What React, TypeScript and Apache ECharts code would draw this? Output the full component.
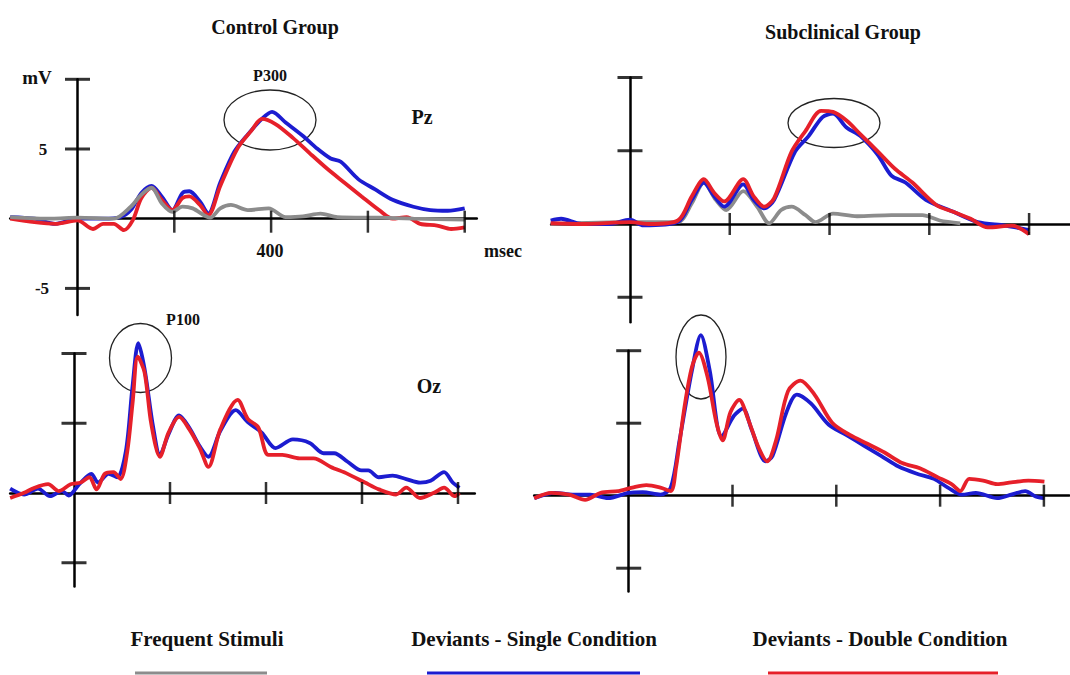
import React, { useEffect, useRef } from "react";
import * as echarts from "echarts";

// ---- Data (time in msec, amplitude in mV) ----
const ctrlPzBlue: number[][] = [
  [-139, 0.12], [-89, 0], [-46, -0.37], [0, 0], [53, 0], [89, 0.12], [110, 0.62], [132, 1.85], [153, 2.35],
  [174, 1.6], [196, 0.62], [217, 1.85], [231, 1.97], [253, 1.23], [270, 0.37], [295, 2.6], [324, 4.8],
  [352, 6.05], [381, 7.16], [402, 7.66], [430, 6.9], [466, 5.93], [494, 5.06], [523, 4.32], [544, 4.08],
  [580, 2.84], [615, 2.1], [651, 1.36], [694, 0.86], [729, 0.62], [765, 0.57], [800, 0.74],
];
const ctrlPzRed: number[][] = [
  [-139, 0], [-89, -0.25], [-46, -0.37], [0, -0.12], [32, -0.74], [53, -0.37], [75, -0.37], [96, -0.82],
  [114, -0.12], [132, 1.48], [153, 2.22], [174, 1.36], [196, 0.62], [217, 1.48], [231, 1.6], [253, 0.99],
  [270, 0.25], [295, 2.35], [331, 5.06], [359, 6.3], [381, 7.16], [409, 6.79], [445, 5.8], [480, 4.69],
  [516, 3.58], [551, 2.6], [587, 1.6], [623, 0.62], [651, 0], [680, 0.12], [708, -0.37], [743, -0.49],
  [772, -0.74], [800, -0.62],
];
const ctrlPzGray: number[][] = [
  [-139, 0.12], [-53, 0], [0, 0.07], [75, 0], [110, 0.86], [132, 1.73], [153, 2.22], [174, 1.11],
  [196, 0.49], [217, 0.86], [238, 0.74], [274, 0.07], [295, 0.74], [317, 0.99], [352, 0.62], [395, 0.74],
  [430, 0.12], [466, 0.17], [502, 0.37], [537, 0.12], [623, 0.07], [694, 0], [800, -0.07],
];

const subPzBlue: number[][] = [
  [-159, 0.24], [-138, 0.36], [-97, 0], [-42, 0], [0, 0.29], [27, -0.1], [96, 0.13], [124, 1.65],
  [148, 2.83], [169, 1.89], [189, 1.18], [227, 2.71], [248, 1.65], [269, 1.06], [289, 1.65], [331, 4.94],
  [358, 6.0], [386, 7.3], [407, 7.53], [434, 6.59], [462, 6.0], [497, 4.71], [524, 3.3], [552, 2.83],
  [593, 1.65], [648, 0.83], [697, 0.13], [752, -0.11], [800, -0.41],
];
const subPzRed: number[][] = [
  [-159, 0.05], [-97, 0], [0, 0.13], [41, 0], [96, 0.24], [124, 1.89], [148, 3.06], [169, 2.12],
  [189, 1.54], [227, 3.06], [248, 1.89], [269, 1.18], [289, 1.77], [324, 4.94], [352, 6.36], [383, 7.72],
  [407, 7.65], [434, 7.06], [462, 6.12], [497, 4.94], [531, 3.77], [566, 2.83], [614, 1.3], [648, 0.83],
  [683, 0.36], [717, -0.23], [766, -0.11], [800, -0.7],
];
const subPzGray: number[][] = [
  [-159, 0], [0, 0.13], [96, 0.13], [124, 1.42], [148, 2.83], [172, 1.65], [193, 0.95], [227, 2.24],
  [255, 1.18], [279, 0.05], [303, 0.95], [324, 1.18], [352, 0.6], [372, 0.13], [407, 0.71], [455, 0.53],
  [524, 0.6], [586, 0.6], [621, 0.24], [662, 0.05],
];

const ctrlOzBlue: number[][] = [
  [-133, 0.31], [-104, -0.11], [-75, 0.31], [-50, -0.23], [-25, 0.14], [-11, -0.18], [11, 0.63], [36, 1.37],
  [50, 0.75], [72, 1.37], [90, 1.13], [108, 2.98], [122, 7.67], [134, 10.75], [147, 8.9], [165, 4.7],
  [179, 2.73], [197, 4.21], [219, 5.57], [240, 4.7], [262, 3.35], [280, 2.6], [305, 4.46], [337, 5.94],
  [362, 5.08], [391, 4.33], [420, 3.22], [456, 3.84], [491, 3.59], [520, 2.85], [542, 2.85], [570, 2.24],
  [599, 1.62], [613, 1.62], [635, 1.13], [664, 1.25], [692, 1.0], [721, 0.75], [743, 0.88], [771, 1.5],
  [789, 0.75], [803, 0.38],
];
const ctrlOzRed: number[][] = [
  [-133, -0.36], [-104, 0.01], [-82, 0.38], [-54, 0.63], [-32, 0.14], [-7, 0.63], [14, 0.75], [32, 1.13],
  [47, 0.26], [64, 1.37], [82, 1.5], [97, 1.0], [111, 2.98], [122, 6.43], [133, 9.77], [147, 8.65],
  [161, 4.95], [179, 2.6], [197, 4.33], [219, 5.45], [240, 4.58], [262, 3.22], [280, 1.87], [305, 4.58],
  [341, 6.68], [362, 5.32], [384, 4.7], [405, 2.73], [434, 2.73], [470, 2.48], [499, 2.48], [535, 1.87],
  [570, 1.37], [606, 0.75], [635, 0.26], [671, -0.11], [692, 0.38], [721, -0.36], [750, 0.01], [771, 0.38],
  [793, -0.23], [803, 0.01],
];

const subOzBlue: number[][] = [
  [-182, -0.17], [-142, 0.2], [-108, 0.07], [-74, 0.07], [-40, -0.17], [0, 0.2], [27, 0.24], [61, 0.07],
  [81, 0.56], [98, 3.82], [122, 8.66], [139, 11.08], [156, 8.66], [179, 4.07], [203, 5.52], [220, 6.0],
  [237, 4.55], [264, 2.37], [277, 2.73], [304, 5.76], [324, 6.97], [351, 6.36], [385, 4.91], [419, 4.19],
  [453, 3.46], [487, 2.73], [520, 2.01], [554, 1.53], [588, 1.16], [615, 0.56], [642, 0.07], [669, 0.2],
  [710, -0.17], [737, 0.07], [764, 0.32], [784, -0.05], [801, -0.17],
];
const subOzRed: number[][] = [
  [-182, -0.17], [-149, 0.2], [-115, 0.07], [-84, -0.29], [-54, 0.2], [-20, 0.32], [7, 0.56], [34, 0.73],
  [61, 0.56], [81, 0.32], [91, 1.89], [108, 6.24], [122, 8.9], [135, 9.87], [152, 8.18], [169, 5.03],
  [181, 3.82], [196, 5.76], [213, 6.61], [230, 5.28], [250, 3.34], [267, 2.37], [284, 3.82], [307, 7.21],
  [331, 7.94], [358, 6.97], [392, 5.03], [426, 4.19], [460, 3.58], [493, 2.98], [527, 2.25], [561, 1.89],
  [595, 1.28], [622, 0.8], [639, 0.32], [656, 1.16], [683, 1.04], [710, 0.8], [737, 0.92], [770, 1.04],
  [801, 0.97],
];

const xTickValues = [200, 400, 600, 800];
const yTickValues = [-5, 5, 10];
const legendLabels = ["Frequent Stimuli", "Deviants - Single Condition", "Deviants - Double Condition"];
const groupTitles = ["Control Group", "Subclinical Group"];

// ---- Layout ----
const GRAY = "#8c8c8c";
const BLUE = "#1c1cd0";
const RED = "#e6202a";
const FONT = "Liberation Serif";

type Panel = {
  x0: number; k: number; xMin: number; xMax: number;
  y0: number; u: number; yMin: number; yMax: number;
  series: { data: number[][]; color: string }[];
  tickOffset: number;
};

const panels: Panel[] = [
  {
    x0: 77.5, k: 0.484, xMin: -139, xMax: 825, y0: 218.7, u: 13.94, yMin: -6.9, yMax: 10, tickOffset: 3,
    series: [
      { data: ctrlPzBlue, color: BLUE },
      { data: ctrlPzRed, color: RED },
      { data: ctrlPzGray, color: GRAY },
    ],
  },
  {
    x0: 630, k: 0.499, xMin: -158, xMax: 882, y0: 224, u: 14.65, yMin: -6.7, yMax: 10, tickOffset: 0,
    series: [
      { data: subPzGray, color: GRAY },
      { data: subPzBlue, color: BLUE },
      { data: subPzRed, color: RED },
    ],
  },
  {
    x0: 74, k: 0.48, xMin: -133, xMax: 835, y0: 493, u: 13.95, yMin: -6.7, yMax: 10, tickOffset: 0,
    series: [
      { data: ctrlOzBlue, color: BLUE },
      { data: ctrlOzRed, color: RED },
    ],
  },
  {
    x0: 628.7, k: 0.519, xMin: -182, xMax: 849, y0: 495.7, u: 14.5, yMin: -6.6, yMax: 10, tickOffset: 0,
    series: [
      { data: subOzBlue, color: BLUE },
      { data: subOzRed, color: RED },
    ],
  },
];

function txt(text: string, x: number, y: number, size: number, weight: string = "bold") {
  return {
    type: "text",
    x, y,
    style: {
      text, fill: "#111", font: `${weight} ${size}px "${FONT}"`,
      textAlign: "center", textVerticalAlign: "middle",
    },
  };
}

function ell(cx: number, cy: number, rx: number, ry: number) {
  return {
    type: "ellipse",
    shape: { cx, cy, rx, ry },
    style: { fill: "none", stroke: "#222", lineWidth: 1.3 },
  };
}

export default function App() {
  const ref = useRef<HTMLDivElement>(null);
  useEffect(() => {
    if (!ref.current) return;
    const chart = echarts.init(ref.current, null, { renderer: "svg" });

    const grid: any[] = [];
    const xAxis: any[] = [];
    const yAxis: any[] = [];
    const series: any[] = [];

    panels.forEach((p, i) => {
      grid.push({
        left: p.x0 + p.k * p.xMin,
        top: p.y0 - p.u * p.yMax,
        width: p.k * (p.xMax - p.xMin),
        height: p.u * (p.yMax - p.yMin),
        containLabel: false,
      });
      const axisCommon = {
        gridIndex: i,
        type: "value",
        axisLine: { show: true, onZero: true, lineStyle: { color: "#000", width: 2.5 } },
        axisTick: { show: false },
        axisLabel: { show: false },
        splitLine: { show: false },
      };
      xAxis.push({ ...axisCommon, min: p.xMin, max: p.xMax });
      yAxis.push({ ...axisCommon, min: p.yMin, max: p.yMax });

      p.series.forEach((s) => {
        series.push({
          type: "line",
          xAxisIndex: i,
          yAxisIndex: i,
          data: s.data,
          showSymbol: false,
          smooth: 0.3,
          clip: false,
          lineStyle: { color: s.color, width: 3.8 },
          itemStyle: { color: s.color },
          z: 3,
        });
      });
      // axis ticks crossing the axes
      series.push({
        type: "scatter",
        xAxisIndex: i,
        yAxisIndex: i,
        data: xTickValues.map((v) => [v, 0]),
        symbol: "rect",
        symbolSize: [2.5, 22],
        symbolOffset: [0, p.tickOffset],
        itemStyle: { color: "#000" },
        z: 4,
        silent: true,
      });
      series.push({
        type: "scatter",
        xAxisIndex: i,
        yAxisIndex: i,
        data: yTickValues.map((v) => [0, v]),
        symbol: "rect",
        symbolSize: [25, 3],
        itemStyle: { color: "#000" },
        z: 4,
        silent: true,
      });
    });

    const graphic: any[] = [
      txt(groupTitles[0], 275, 27, 20),
      txt(groupTitles[1], 843, 32, 20),
      txt("mV", 37, 77, 19),
      txt("5", 43, 149, 17),
      txt("-5", 42, 288, 17),
      txt("P300", 270, 75, 16),
      txt("Pz", 422, 117, 20),
      txt("400", 270, 251, 18),
      txt("msec", 503, 251, 18),
      txt("P100", 183, 319, 16),
      txt("Oz", 429, 386, 20),
      ell(270, 120, 46, 30),
      ell(834, 123, 46, 24.5),
      ell(140.5, 358, 31, 34.5),
      ell(701, 357, 25, 42),
      txt(legendLabels[0], 207, 639, 21),
      txt(legendLabels[1], 534, 639, 21),
      txt(legendLabels[2], 880, 639, 21),
      { type: "line", shape: { x1: 135, y1: 673, x2: 267, y2: 673 }, style: { stroke: GRAY, lineWidth: 3 } },
      { type: "line", shape: { x1: 427, y1: 673, x2: 640, y2: 673 }, style: { stroke: BLUE, lineWidth: 3 } },
      { type: "line", shape: { x1: 768, y1: 673, x2: 998, y2: 673 }, style: { stroke: RED, lineWidth: 3 } },
    ];

    chart.setOption({
      animation: false,
      backgroundColor: "#fff",
      grid,
      xAxis,
      yAxis,
      series,
      graphic,
    });
    return () => chart.dispose();
  }, []);

  return (
    <div
      ref={ref}
      style={{ position: "fixed", left: 0, top: 0, width: 1070, height: 675 }}
    />
  );
}
